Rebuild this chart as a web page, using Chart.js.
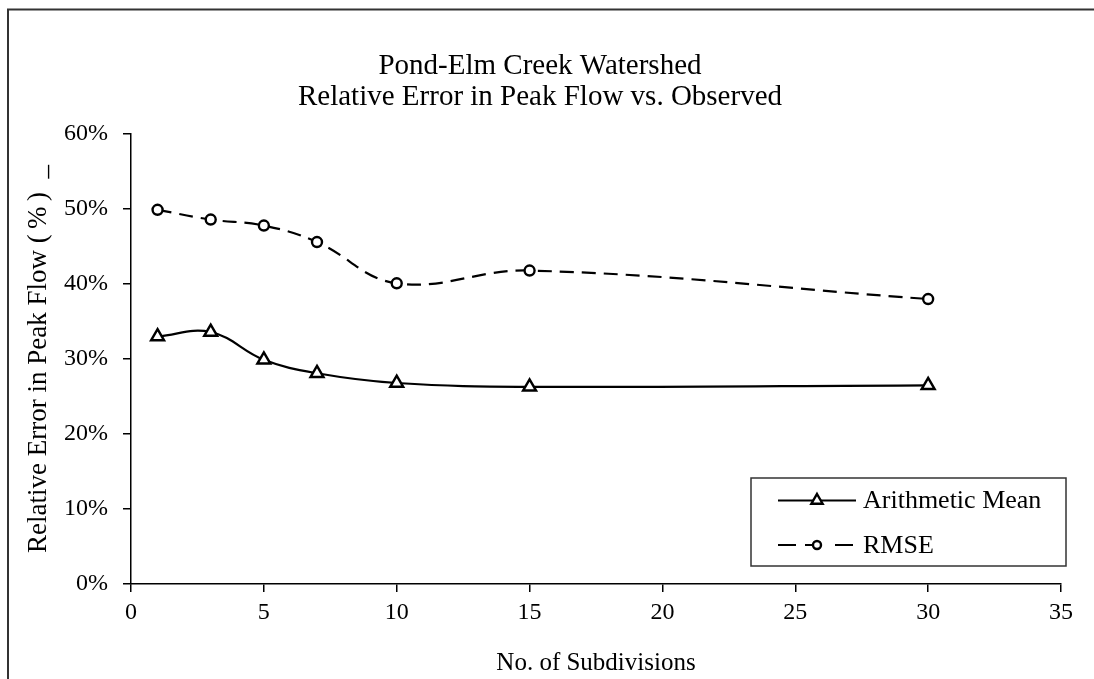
<!DOCTYPE html>
<html>
<head>
<meta charset="utf-8">
<script src="https://cdn.jsdelivr.net/npm/chart.js@4/dist/chart.umd.min.js"></script>
<style>
  html, body { margin: 0; padding: 0; background: #fff; }
  canvas { display: block; }
</style>
</head>
<body>
<canvas id="chart" width="1094" height="679"></canvas>
<script>
// data
const subdivisions = [1, 3, 5, 7, 10, 15, 30];
const arithmeticMean = [33.0, 33.6, 29.9, 28.1, 26.8, 26.3, 26.5];
const rmse = [49.9, 48.6, 47.8, 45.6, 40.1, 41.8, 38.0];
const xTicks = [0, 5, 10, 15, 20, 25, 30, 35];
const yTicks = [0, 10, 20, 30, 40, 50, 60];
const seriesNames = ['Arithmetic Mean', 'RMSE'];
const titleLines = ['Pond-Elm Creek Watershed', 'Relative Error in Peak Flow vs. Observed'];

const serif = '"Liberation Serif", "Times New Roman", serif';

const toPoints = (ys) => subdivisions.map((x, i) => ({ x: x, y: ys[i] }));

// outer frame (left + top edges only, like the original)
const framePlugin = {
  id: 'frame',
  beforeDraw(chart) {
    const ctx = chart.ctx;
    ctx.save();
    ctx.strokeStyle = '#333';
    ctx.lineWidth = 2;
    ctx.beginPath();
    ctx.moveTo(8, chart.height);
    ctx.lineTo(8, 9.5);
    ctx.lineTo(chart.width, 9.5);
    ctx.stroke();
    ctx.restore();
  }
};

// boxed legend with line + marker samples
const boxLegend = {
  id: 'boxLegend',
  afterDraw(chart) {
    const ctx = chart.ctx;
    const area = chart.chartArea;
    const left = area.right - 310, right = area.right + 5;
    const top = area.bottom - 106, bottom = area.bottom - 18;
    ctx.save();
    ctx.fillStyle = '#fff';
    ctx.fillRect(left, top, right - left, bottom - top);
    ctx.strokeStyle = '#333';
    ctx.lineWidth = 1.5;
    ctx.strokeRect(left, top, right - left, bottom - top);

    chart.data.datasets.forEach((ds, i) => {
      const y = top + 22.5 + i * 44.5;
      const x0 = left + 27, x1 = left + 105, xm = (x0 + x1) / 2;
      ctx.strokeStyle = ds.borderColor;
      ctx.lineWidth = ds.borderWidth;
      ctx.setLineDash(ds.borderDash ? [18, 9, 8, 22, 18] : []);
      ctx.beginPath();
      ctx.moveTo(x0, y);
      ctx.lineTo(x1, y);
      ctx.stroke();
      ctx.setLineDash([]);

      const r = ds.pointRadius - 1;
      ctx.fillStyle = '#fff';
      ctx.strokeStyle = '#000';
      ctx.lineWidth = ds.pointBorderWidth;
      ctx.beginPath();
      if (ds.pointStyle === 'triangle') {
        ctx.moveTo(xm, y - r);
        ctx.lineTo(xm + r * 0.866, y + r * 0.5);
        ctx.lineTo(xm - r * 0.866, y + r * 0.5);
        ctx.closePath();
      } else {
        ctx.arc(xm, y, r, 0, Math.PI * 2);
      }
      ctx.fill();
      ctx.stroke();

      ctx.fillStyle = '#000';
      ctx.font = '26px ' + serif;
      ctx.textAlign = 'left';
      ctx.textBaseline = 'middle';
      ctx.fillText(ds.label, x1 + 7, y + 1);
    });
    ctx.restore();
  }
};

new Chart(document.getElementById('chart'), {
  type: 'line',
  data: {
    datasets: [
      {
        label: seriesNames[0],
        data: toPoints(arithmeticMean),
        borderColor: '#000',
        borderWidth: 2.2,
        tension: 0.4,
        pointStyle: 'triangle',
        pointRadius: 7.5,
        pointBorderWidth: 2.4,
        pointBackgroundColor: '#fff',
        pointBorderColor: '#000'
      },
      {
        label: seriesNames[1],
        data: toPoints(rmse),
        borderColor: '#000',
        borderWidth: 2.2,
        borderDash: [14, 8],
        tension: 0.4,
        pointStyle: 'circle',
        pointRadius: 5,
        pointBorderWidth: 2.4,
        pointBackgroundColor: '#fff',
        pointBorderColor: '#000'
      }
    ]
  },
  options: {
    responsive: false,
    animation: false,
    layout: { padding: { left: 19, right: 33, top: 0, bottom: 0 } },
    plugins: {
      legend: { display: false },
      tooltip: { enabled: false },
      title: {
        display: true,
        text: titleLines,
        color: '#000',
        font: { family: serif, size: 29, weight: 'normal', lineHeight: 1.07 },
        padding: { top: 50.5, bottom: 21.5 }
      }
    },
    scales: {
      x: {
        type: 'linear',
        min: 0,
        max: 35,
        afterBuildTicks: (scale) => { scale.ticks = xTicks.map(v => ({ value: v })); },
        afterFit: (scale) => { scale.height = 95; },
        grid: { drawOnChartArea: false, color: '#000', tickLength: 8, lineWidth: 1.5 },
        border: { color: '#000', width: 1.5 },
        ticks: { color: '#000', padding: 6, font: { family: serif, size: 24 } },
        title: {
          display: true,
          text: 'No. of Subdivisions',
          color: '#000',
          font: { family: serif, size: 25 },
          padding: { top: 4, bottom: 1 }
        }
      },
      y: {
        min: 0,
        max: 60,
        afterBuildTicks: (scale) => { scale.ticks = yTicks.map(v => ({ value: v })); },
        afterFit: (scale) => { scale.width = 112; },
        grid: { drawOnChartArea: false, color: '#000', tickLength: 8, lineWidth: 1.5 },
        border: { color: '#000', width: 1.5 },
        ticks: {
          color: '#000',
          padding: 15,
          font: { family: serif, size: 24 },
          callback: (v) => v + '%'
        },
        title: {
          display: true,
          text: 'Relative Error in Peak Flow (\u2009%\u2009)  _',
          color: '#000',
          font: { family: serif, size: 27 },
          padding: 4
        }
      }
    }
  },
  plugins: [framePlugin, boxLegend]
});
</script>
</body>
</html>
